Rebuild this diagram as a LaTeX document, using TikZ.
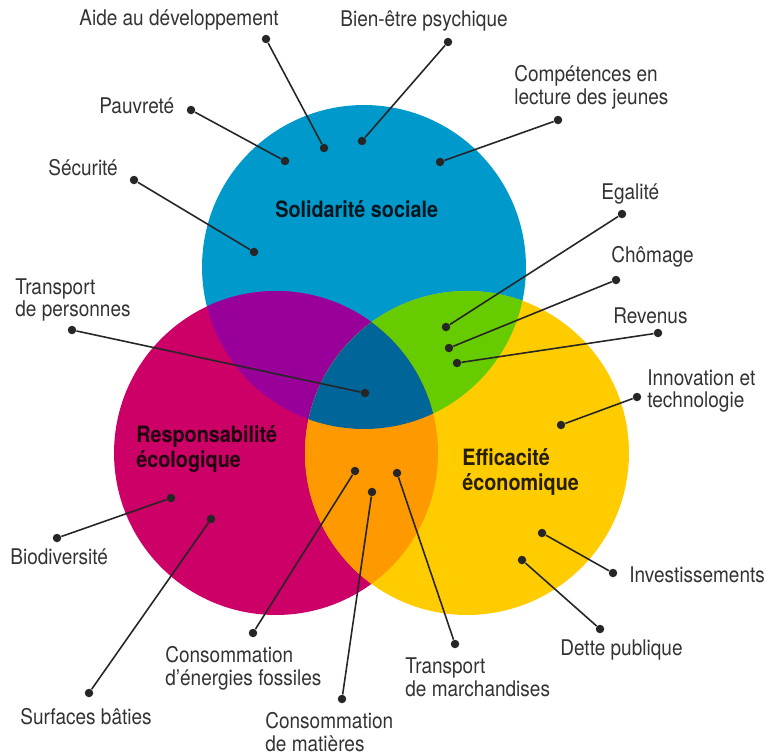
\documentclass[tikz,border=0pt]{standalone}
\usepackage{fontspec}
\setmainfont[FakeStretch=0.88]{TeX Gyre Heros}
\definecolor{sol_blue}{RGB}{0,153,204}
\definecolor{eco_pink}{RGB}{204,0,102}
\definecolor{eff_yellow}{RGB}{255,204,0}
\definecolor{mix_purple}{RGB}{153,0,153}
\definecolor{mix_green}{RGB}{102,204,0}
\definecolor{mix_orange}{RGB}{255,153,0}
\definecolor{mix_navy}{RGB}{0,102,153}

\begin{document}
\begin{tikzpicture}[x=0.02cm,y=-0.02cm,
          lbl/.style={anchor=west, align=left, inner sep=0pt, text=black!80,
                      font=\fontsize{12.3}{13}\selectfont},
          ttl/.style={anchor=west, align=left, inner sep=0pt, text opacity=0.85,
                      font=\bfseries\fontsize{12.8}{14}\selectfont},
          pt/.style={circle, fill=black!85, inner sep=0pt, minimum size=0.17cm},
          lnk/.style={black!85, line width=0.9pt}]
        \useasboundingbox (0,0) rectangle (767,754);
        % circles
        \fill[sol_blue]   (364,267) circle[radius=3.24cm];
        \fill[eco_pink]   (276,453) circle[radius=3.24cm];
        \fill[eff_yellow] (467,453) circle[radius=3.24cm];
        \begin{scope}
          \clip (364,267) circle[radius=3.24cm];
          \fill[mix_purple] (276,453) circle[radius=3.24cm];
          \fill[mix_green]  (467,453) circle[radius=3.24cm];
        \end{scope}
        \begin{scope}
          \clip (276,453) circle[radius=3.24cm];
          \fill[mix_orange] (467,453) circle[radius=3.24cm];
          \clip (364,267) circle[radius=3.24cm];
          \fill[mix_navy]   (467,453) circle[radius=3.24cm];
        \end{scope}
        \node[ttl] (sol) at (275,209) {Solidarité sociale};
        \node[ttl] (eco) at (136,449) {Responsabilité\\écologique};
        \node[ttl] (eff) at (462,472) {Efficacité\\économique};
        % labels
        \node[lbl] (aide)   at (79,20)    {Aide au développement};
        \node[lbl] (bien)   at (340,21)   {Bien-être psychique};
        \node[lbl] (pauv)   at (99,106)   {Pauvreté};
        \node[lbl] (comp)   at (514,87.5) {Compétences en\\lecture des jeunes};
        \node[lbl] (secu)   at (48,168)   {Sécurité};
        \node[lbl] (egal)   at (601,194)  {Egalité};
        \node[lbl] (chom)   at (611,257)  {Chômage};
        \node[lbl] (tpers)  at (15,300)   {Transport\\de personnes};
        \node[lbl] (reve)   at (613,316)  {Revenus};
        \node[lbl] (inno)   at (647,391)  {Innovation et\\technologie};
        \node[lbl] (bio)    at (10,557)   {Biodiversité};
        \node[lbl] (inv)    at (629,575)  {Investissements};
        \node[lbl] (dette)  at (560,650)  {Dette publique};
        \node[lbl] (foss)   at (165,668)  {Consommation\\d’énergies fossiles};
        \node[lbl] (tmarch) at (405,677)  {Transport\\de marchandises};
        \node[lbl] (surf)   at (20,717)   {Surfaces bâties};
        \node[lbl] (mat)    at (265,732)  {Consommation\\de matières};
        % dots
        \foreach \n/\ox/\oy/\ix/\iy in {aide/266/39/324/148, bien/448/42/362/141,
            pauv/191/110/285/161, comp/558/120/440/162, secu/134/180/254/252,
            egal/622/214/446/327, chom/616/280/449/348, tpers/72/330/365/393,
            reve/658/333/457/363, inno/637/397/561/425, bio/57/538/171/498,
            inv/613/573/542/533, dette/600/629/522/560, foss/253/633/355/471,
            tmarch/455/644/397/473, surf/89/693/211/519, mat/342/699/372/492}{
          \node[pt] (\n-o) at (\ox,\oy) {};
          \node[pt] (\n-i) at (\ix,\iy) {};
          \draw[lnk] (\n-o) -- (\n-i);
        }
      \end{tikzpicture}
\end{document}
